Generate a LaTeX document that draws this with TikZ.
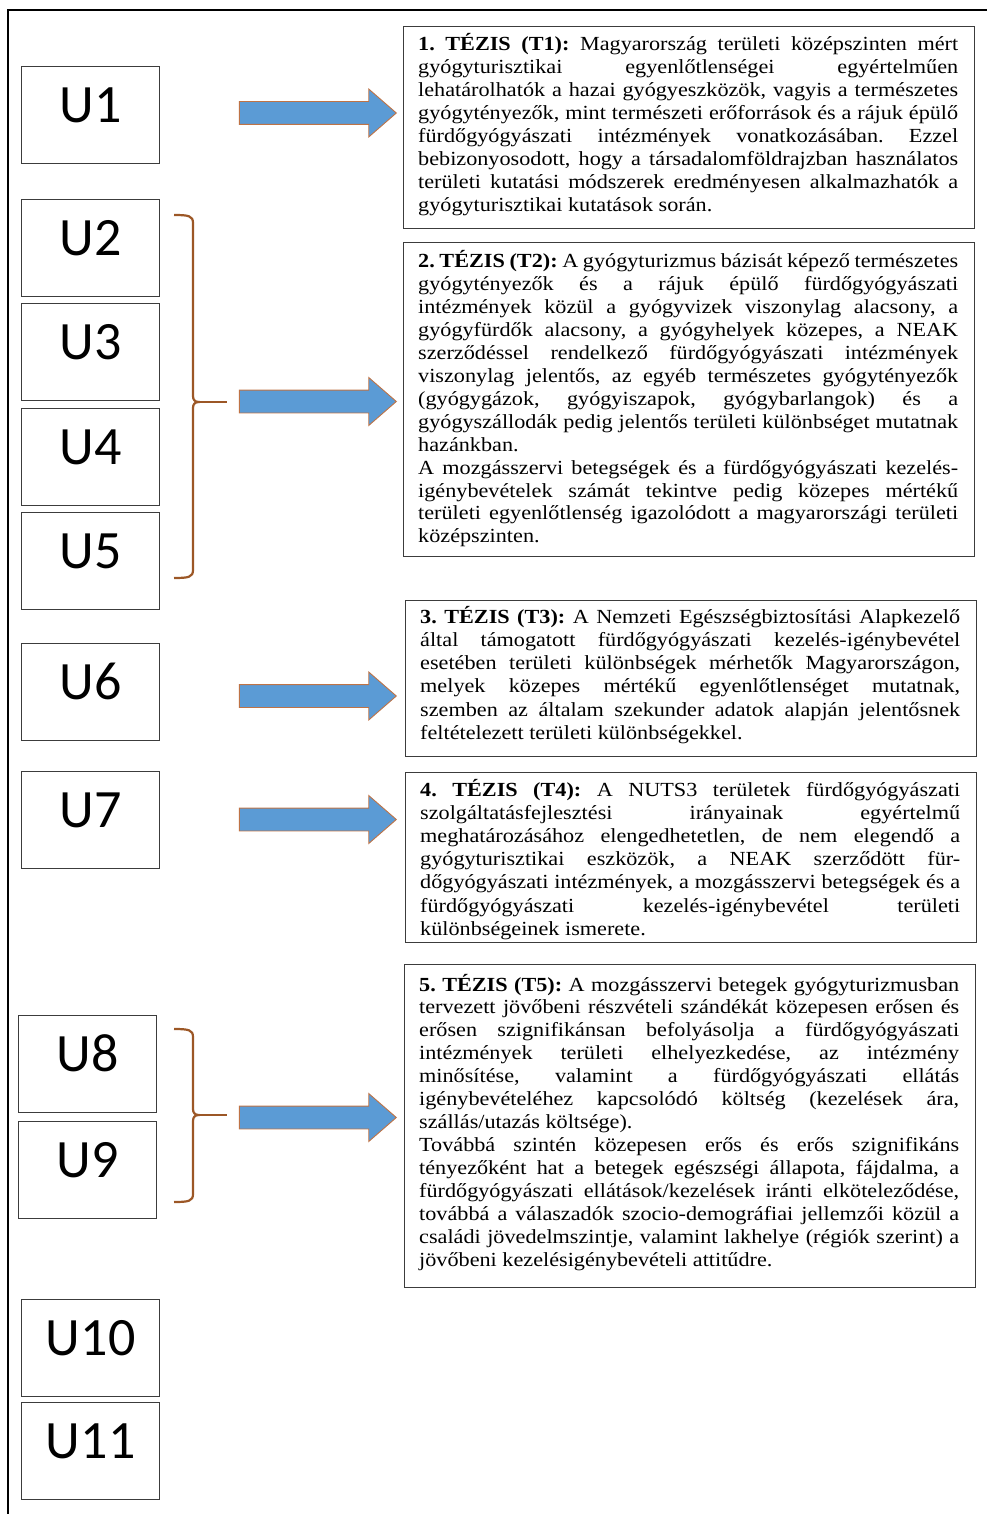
\documentclass[tikz,border=0pt]{standalone}
\usepackage{fontspec}
\setmainfont{Liberation Serif}[FakeStretch=1.11]
\newfontfamily\calfont{Carlito}
\usetikzlibrary{shapes.arrows}
\definecolor{arrowblue}{RGB}{91,155,213}
\definecolor{arrowedge}{RGB}{190,115,70}
\definecolor{bracebrown}{RGB}{156,87,38}
\definecolor{boxgray}{RGB}{60,60,60}
\newcommand\jline[1]{\hbox to 540pt{#1}}
\newcommand\lline[1]{\hbox to 540pt{#1\hfil}}
\newcommand\drawbrace[3]{%
  \draw[bracestyle] (174,#1) .. controls (189,#1) and (193,#1+1) .. (193,#1+8) -- (193,#2-6)
     .. controls (193,#2-2) and (195,#2) .. (199,#2)
     .. controls (195,#2) and (193,#2+2) .. (193,#2+6) -- (193,#3-8)
     .. controls (193,#3-1) and (189,#3) .. (174,#3);
  \draw[bracestyle] (199,#2) -- (227,#2);}
\tikzset{
 ubox/.style={draw=boxgray, line width=1.3pt, minimum width=138pt, inner sep=0pt,
   text height=56pt, text depth=41pt, anchor=north west,
   font=\calfont\fontsize{54}{60}\selectfont},
 tbox/.style={draw=boxgray, line width=1.3pt, anchor=north west, inner sep=0pt, minimum width=571pt},
 ttext/.style={anchor=base west, inner sep=0pt, font=\fontsize{20}{23}\selectfont},
 bigarrow/.style={single arrow, draw=arrowedge, fill=arrowblue, line width=0.9pt,
   inner sep=0pt, inner ysep=11pt, single arrow head extend=12.5pt,
   single arrow tip angle=82, minimum height=157pt, anchor=tip},
 bracestyle/.style={draw=bracebrown, line width=2.2pt}
}
\begin{document}
\begin{tikzpicture}[x=1pt,y=-1pt]
\useasboundingbox (0,0) rectangle (987,1514);
\draw[line width=2pt] (8,1514) -- (8,10) -- (987,10);

% U boxes
\node[ubox] (U1) at (21,66) {U1};
\node[ubox] (U2) at (21,199) {U2};
\node[ubox] (U3) at (21,303) {U3};
\node[ubox] (U4) at (21,408) {U4};
\node[ubox] (U5) at (21,512) {U5};
\node[ubox] (U6) at (21,643) {U6};
\node[ubox] (U7) at (21,771) {U7};
\node[ubox] (U8) at (18,1015) {U8};
\node[ubox] (U9) at (18,1121) {U9};
\node[ubox] (U10) at (21,1299) {U10};
\node[ubox] (U11) at (21,1402) {U11};

% braces
\drawbrace{215}{402}{578}
\drawbrace{1029}{1115}{1202}

% arrows
\node[bigarrow] (A1) at (397,113) {};
\node[bigarrow] (A2) at (397,401.5) {};
\node[bigarrow] (A3) at (397,696) {};
\node[bigarrow] (A4) at (397,819.5) {};
\node[bigarrow] (A5) at (397,1117.5) {};

% thesis boxes
\node[tbox, minimum height=202pt] (T1) at (403,26) {};
\node[tbox, minimum height=314pt] (T2) at (403,242) {};
\node[tbox, minimum height=156pt] (T3) at (405,600) {};
\node[tbox, minimum height=170pt] (T4) at (405,772) {};
\node[tbox, minimum height=323pt] (T5) at (404,964) {};

\node[ttext] (T1t) at (418,51) {\vtop{\baselineskip=23pt\lineskiplimit=-30pt\frenchspacing
\jline{\textbf{1. TÉZIS (T1):} Magyarország területi középszinten mért}
\jline{gyógyturisztikai egyenlőtlenségei egyértelműen}
\jline{lehatárolhatók a hazai gyógyeszközök, vagyis a természetes}
\jline{gyógytényezők, mint természeti erőforrások és a rájuk épülő}
\jline{fürdőgyógyászati intézmények vonatkozásában. Ezzel}
\jline{bebizonyosodott, hogy a társadalomföldrajzban használatos}
\jline{területi kutatási módszerek eredményesen alkalmazhatók a}
\lline{gyógyturisztikai kutatások során.}}};

\node[ttext] (T2t) at (418,268) {\vtop{\baselineskip=22.9pt\lineskiplimit=-30pt\frenchspacing
\jline{\textbf{2. TÉZIS (T2):} A gyógyturizmus bázisát képező természetes}
\jline{gyógytényezők és a rájuk épülő fürdőgyógyászati}
\jline{intézmények közül a gyógyvizek viszonylag alacsony, a}
\jline{gyógyfürdők alacsony, a gyógyhelyek közepes, a NEAK}
\jline{szerződéssel rendelkező fürdőgyógyászati intézmények}
\jline{viszonylag jelentős, az egyéb természetes gyógytényezők}
\jline{(gyógygázok, gyógyiszapok, gyógybarlangok) és a}
\jline{gyógyszállodák pedig jelentős területi különbséget mutatnak}
\lline{hazánkban.}
\jline{A mozgásszervi betegségek és a fürdőgyógyászati kezelés-}
\jline{igénybevételek számát tekintve pedig közepes mértékű}
\jline{területi egyenlőtlenség igazolódott a magyarországi területi}
\lline{középszinten.}}};

\node[ttext] (T3t) at (420,623) {\vtop{\baselineskip=23.3pt\lineskiplimit=-30pt\frenchspacing
\jline{\textbf{3. TÉZIS (T3):} A Nemzeti Egészségbiztosítási Alapkezelő}
\jline{által támogatott fürdőgyógyászati kezelés-igénybevétel}
\jline{esetében területi különbségek mérhetők Magyarországon,}
\jline{melyek közepes mértékű egyenlőtlenséget mutatnak,}
\jline{szemben az általam szekunder adatok alapján jelentősnek}
\lline{feltételezett területi különbségekkel.}}};

\node[ttext] (T4t) at (420,796) {\vtop{\baselineskip=23.2pt\lineskiplimit=-30pt\frenchspacing
\jline{\textbf{4. TÉZIS (T4):} A NUTS3 területek fürdőgyógyászati}
\jline{szolgáltatásfejlesztési irányainak egyértelmű}
\jline{meghatározásához elengedhetetlen, de nem elegendő a}
\jline{gyógyturisztikai eszközök, a NEAK szerződött für-}
\jline{dőgyógyászati intézmények, a mozgásszervi betegségek és a}
\jline{fürdőgyógyászati kezelés-igénybevétel területi}
\lline{különbségeinek ismerete.}}};

\node[ttext] (T5t) at (419,991) {\vtop{\baselineskip=22.95pt\lineskiplimit=-30pt\frenchspacing
\jline{\textbf{5. TÉZIS (T5):} A mozgásszervi betegek gyógyturizmusban}
\jline{tervezett jövőbeni részvételi szándékát közepesen erősen és}
\jline{erősen szignifikánsan befolyásolja a fürdőgyógyászati}
\jline{intézmények területi elhelyezkedése, az intézmény}
\jline{minősítése, valamint a fürdőgyógyászati ellátás}
\jline{igénybevételéhez kapcsolódó költség (kezelések ára,}
\lline{szállás/utazás költsége).}
\jline{Továbbá szintén közepesen erős és erős szignifikáns}
\jline{tényezőként hat a betegek egészségi állapota, fájdalma, a}
\jline{fürdőgyógyászati ellátások/kezelések iránti elköteleződése,}
\jline{továbbá a válaszadók szocio-demográfiai jellemzői közül a}
\jline{családi jövedelmszintje, valamint lakhelye (régiók szerint) a}
\lline{jövőbeni kezelésigénybevételi attitűdre.}}};
\end{tikzpicture}
\end{document}
